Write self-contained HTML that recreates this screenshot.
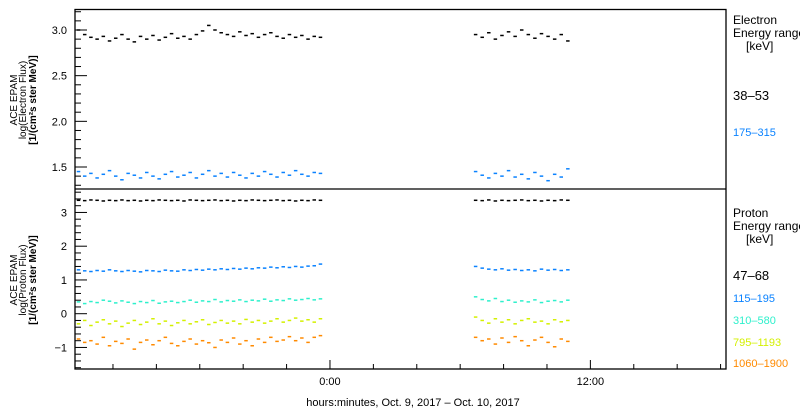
<!DOCTYPE html>
<html><head><meta charset="utf-8"><style>
html,body{margin:0;padding:0;background:#fff;width:800px;height:410px;overflow:hidden}
svg{display:block;font-family:"Liberation Sans",sans-serif}
</style></head><body>
<svg id="chart" width="800" height="410" viewBox="0 0 800 410" xmlns="http://www.w3.org/2000/svg">
<g id="axes"></g>
<g id="marks"></g>
<g id="legend" font-size="12">
  <text x="733" y="24">Electron</text>
  <text x="733" y="37">Energy ranges</text>
  <text x="746" y="50">[keV]</text>
  <text x="733" y="100" font-size="13" fill="#000">38–53</text>
  <text x="733" y="136" font-size="11" fill="#0a82ff">175–315</text>
  <text x="733" y="217">Proton</text>
  <text x="733" y="230">Energy ranges</text>
  <text x="746" y="243">[keV]</text>
  <text x="733" y="280" font-size="13" fill="#000">47–68</text>
  <text x="733" y="302" font-size="11" fill="#0a82ff">115–195</text>
  <text x="733" y="324" font-size="11" fill="#2ef0cc">310–580</text>
  <text x="733" y="346" font-size="11" fill="#d4f000">795–1193</text>
  <text x="733" y="367" font-size="11" fill="#ff8a00">1060–1900</text>
</g>
<text x="413" y="406" font-size="11" text-anchor="middle">hours:minutes, Oct.  9, 2017 – Oct. 10, 2017</text>
<g font-size="10" text-anchor="middle">
  <text transform="translate(17,100) rotate(-90)">ACE EPAM</text>
  <text transform="translate(26,100) rotate(-90)">log(Electron Flux)</text>
  <text transform="translate(36,100) rotate(-90)" font-weight="bold">[1/(cm²s ster MeV)]</text>
</g>
<g font-size="10" text-anchor="middle">
  <text transform="translate(17,280) rotate(-90)">ACE EPAM</text>
  <text transform="translate(26,280) rotate(-90)">log(Proton Flux)</text>
  <text transform="translate(36,280) rotate(-90)" font-weight="bold">[1/(cm²s ster MeV)]</text>
</g>
</svg>
<script>
// time windows of the two data segments (hours relative to Oct 10 0:00)
const seg1Range = [-11.6, -0.45];
const seg2Range = [6.7, 10.95];
const xTickHours = [-10,-8,-6,-4,-2,0,2,4,6,8,10,12,14,16,18];
const xTickLabels = ["0:00","12:00"];
const xTickLabelHours = [0,12];
const topTicks = [1.5,2.0,2.5,3.0];
const topTickLabels = ["1.5","2.0","2.5","3.0"];
const botTicks = [-1,0,1,2,3];
const botTickLabels = ["−1","0","1","2","3"];

const e38_s1 = [3.0,2.95,2.92,2.9,2.93,2.88,2.91,2.95,2.9,2.87,2.93,2.9,2.94,2.89,2.92,2.96,2.91,2.93,2.9,2.95,2.99,3.05,3.0,2.97,2.95,2.93,2.98,2.94,2.96,2.92,2.95,2.97,2.93,2.91,2.95,2.92,2.94,2.9,2.93,2.92];
const e38_s2 = [2.95,2.92,2.97,2.9,2.94,2.98,2.93,3.0,2.95,2.91,2.96,2.93,2.9,2.95,2.88];
const e175_s1 = [1.45,1.4,1.43,1.38,1.42,1.46,1.4,1.36,1.43,1.41,1.38,1.44,1.4,1.37,1.42,1.45,1.39,1.41,1.44,1.38,1.42,1.46,1.4,1.43,1.39,1.44,1.41,1.38,1.43,1.4,1.45,1.42,1.39,1.44,1.41,1.46,1.42,1.4,1.44,1.43];
const e175_s2 = [1.45,1.41,1.38,1.43,1.4,1.46,1.39,1.42,1.37,1.44,1.4,1.35,1.42,1.39,1.48];
const p47_s1 = [3.36,3.35,3.37,3.36,3.34,3.36,3.35,3.37,3.35,3.36,3.34,3.36,3.35,3.37,3.36,3.35,3.36,3.34,3.37,3.36,3.35,3.36,3.37,3.35,3.36,3.34,3.36,3.35,3.37,3.36,3.35,3.36,3.37,3.35,3.36,3.34,3.36,3.35,3.37,3.36];
const p47_s2 = [3.36,3.35,3.37,3.34,3.36,3.35,3.36,3.37,3.35,3.36,3.34,3.36,3.35,3.37,3.36];
const p115_s1 = [1.3,1.27,1.25,1.28,1.26,1.3,1.27,1.25,1.28,1.26,1.24,1.28,1.27,1.25,1.29,1.27,1.26,1.3,1.28,1.31,1.29,1.32,1.3,1.33,1.31,1.34,1.32,1.35,1.33,1.36,1.35,1.38,1.36,1.39,1.37,1.4,1.38,1.41,1.42,1.47];
const p115_s2 = [1.4,1.35,1.32,1.3,1.33,1.29,1.31,1.28,1.3,1.27,1.32,1.29,1.31,1.28,1.3];
const p310_s1 = [0.35,0.3,0.36,0.33,0.4,0.37,0.32,0.38,0.34,0.3,0.36,0.33,0.39,0.31,0.35,0.37,0.33,0.36,0.4,0.34,0.38,0.36,0.42,0.35,0.39,0.37,0.41,0.36,0.4,0.38,0.43,0.37,0.41,0.39,0.44,0.4,0.42,0.45,0.41,0.44];
const p310_s2 = [0.5,0.42,0.38,0.45,0.36,0.4,0.34,0.38,0.35,0.41,0.33,0.37,0.39,0.35,0.4];
const p795_s1 = [-0.3,-0.2,-0.35,-0.25,-0.18,-0.3,-0.22,-0.38,-0.28,-0.2,-0.32,-0.25,-0.15,-0.3,-0.22,-0.35,-0.27,-0.2,-0.3,-0.24,-0.18,-0.32,-0.26,-0.2,-0.28,-0.22,-0.3,-0.17,-0.25,-0.2,-0.28,-0.22,-0.15,-0.25,-0.2,-0.13,-0.22,-0.18,-0.25,-0.15];
const p795_s2 = [-0.1,-0.2,-0.28,-0.15,-0.25,-0.18,-0.3,-0.2,-0.15,-0.25,-0.22,-0.3,-0.18,-0.24,-0.2];
const p1060_s1 = [-0.75,-0.85,-0.8,-0.9,-0.7,-0.95,-0.82,-0.88,-0.75,-1.05,-0.85,-0.78,-0.92,-0.8,-0.7,-0.88,-0.95,-0.82,-0.75,-0.9,-0.8,-0.86,-1.0,-0.78,-0.85,-0.72,-0.9,-0.8,-0.95,-0.75,-0.85,-0.7,-0.82,-0.78,-0.68,-0.8,-0.72,-0.85,-0.7,-0.65];
const p1060_s2 = [-0.7,-0.8,-0.75,-0.9,-0.72,-0.85,-0.68,-0.8,-0.95,-0.78,-0.7,-0.85,-0.98,-0.75,-0.82];

const NS = "http://www.w3.org/2000/svg";
const L = 75, R = 726, T1 = 9.5, B1 = 189, T2 = 189, B2 = 369;
const X0 = -11.75, X1 = 18.25;
function xs(h){ return L + (h - X0) / (X1 - X0) * (R - L); }
function yTop(v){ return 30 + (3.0 - v) * 91.33; }
function yBot(v){ return 313.7 - v * 33.75; }
function mk(tag, attrs, parent){ const e = document.createElementNS(NS, tag); for (const k in attrs) e.setAttribute(k, attrs[k]); parent.appendChild(e); return e; }
const axes = document.getElementById('axes');
const marks = document.getElementById('marks');

let frame = mk('rect', {x:L, y:T1, width:R-L, height:B2-T1, fill:'none', stroke:'#000', 'stroke-width':1.3}, axes);


let divider = mk('line', {x1:L, x2:R, y1:T2, y2:T2, stroke:'#000', 'stroke-width':1.3}, axes);



// x ticks
xTickHours.forEach(h => {
  const major = (h % 12 === 0);
  const t = mk('line', {x1:xs(h), x2:xs(h), y1:B2, y2:B2 - (major ? 9 : 5), stroke:'#000', 'stroke-width':1}, axes);
  
  
});
xTickLabelHours.forEach((h, i) => {
  const t = mk('text', {x:xs(h), y:385, 'font-size':11, 'text-anchor':'middle'}, axes);
  t.textContent = xTickLabels[i];
  
  
});
// top y ticks
for (let v = 1.3; v <= 3.21; v += 0.1) {
  const y = yTop(v);
  const major = Math.abs(v * 2 - Math.round(v * 2)) < 0.01;
  const t = mk('line', {x1:L, x2:L + (major ? 12 : 6), y1:y, y2:y, stroke:'#000', 'stroke-width':1}, axes);
  
  
}
topTicks.forEach((v, i) => {
  const t = mk('text', {x:67, y:yTop(v) + 4, 'font-size':11, 'text-anchor':'end'}, axes);
  t.textContent = topTickLabels[i];
  
  
});
// bottom y ticks
for (let v = -1.6; v <= 3.61; v += 0.2) {
  const y = yBot(v);
  const major = Math.abs(v - Math.round(v)) < 0.01;
  const t = mk('line', {x1:L, x2:L + (major ? 12 : 6), y1:y, y2:y, stroke:'#000', 'stroke-width':1}, axes);
  
  
}
botTicks.forEach((v, i) => {
  const t = mk('text', {x:67, y:yBot(v) + 4, 'font-size':11, 'text-anchor':'end'}, axes);
  t.textContent = botTickLabels[i];
  
  
});

function drawSeries(s1, s2, yfn, color, name){
  const g = mk('g', {fill:color}, marks);
  
  
  [[s1, seg1Range], [s2, seg2Range]].forEach(([vals, rng]) => {
    const n = vals.length;
    vals.forEach((v, i) => {
      const h = rng[0] + (rng[1] - rng[0]) * i / (n - 1);
      const r = mk('rect', {x:xs(h) - 1.5, y:yfn(v) - 0.75, width:3.5, height:1.5}, g);
      
      
    });
  });
}
drawSeries(e38_s1, e38_s2, yTop, '#000', 'series-electron-38-53');
drawSeries(e175_s1, e175_s2, yTop, '#0a82ff', 'series-electron-175-315');
drawSeries(p47_s1, p47_s2, yBot, '#000', 'series-proton-47-68');
drawSeries(p115_s1, p115_s2, yBot, '#0a82ff', 'series-proton-115-195');
drawSeries(p310_s1, p310_s2, yBot, '#2ef0cc', 'series-proton-310-580');
drawSeries(p795_s1, p795_s2, yBot, '#d4f000', 'series-proton-795-1193');
drawSeries(p1060_s1, p1060_s2, yBot, '#ff8a00', 'series-proton-1060-1900');
</script>
</body></html>
